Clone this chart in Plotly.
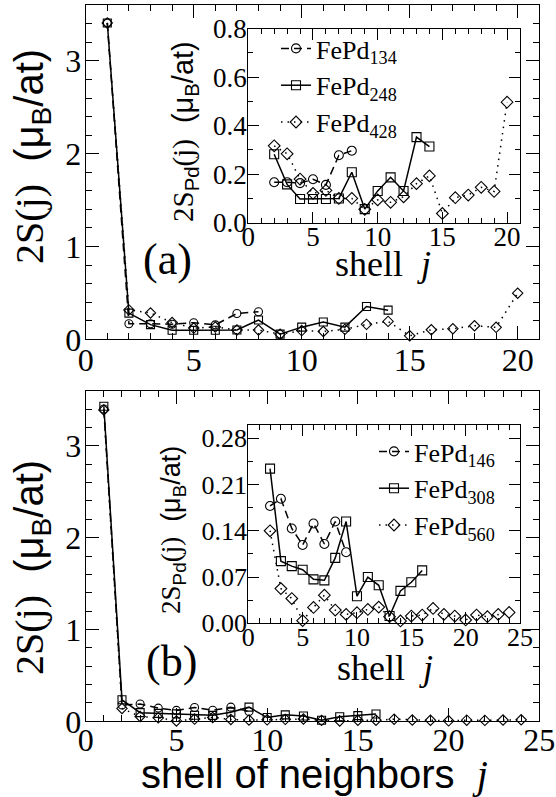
import plotly.graph_objects as go

W, H = 556, 797

# ---------------- data ----------------
shell_a134 = [2, 3, 4, 5, 6, 7, 8]
pd_a134 = [0.167, 0.167, 0.163, 0.179, 0.156, 0.278, 0.297]
shell_a248 = [2, 3, 4, 5, 6, 7, 8, 9, 10, 11, 12, 13, 14]
pd_a248 = [0.282, 0.158, 0.098, 0.098, 0.098, 0.100, 0.208, 0.056, 0.131, 0.187, 0.131, 0.353, 0.314]
shell_a428 = [2, 3, 4, 5, 6, 7, 8, 9, 10, 11, 12, 13, 14, 15, 16, 17, 18, 19, 20]
pd_a428 = [0.317, 0.284, 0.180, 0.121, 0.133, 0.100, 0.100, 0.055, 0.094, 0.084, 0.107, 0.161, 0.193,
           0.038, 0.103, 0.114, 0.146, 0.129, 0.497]

shell_b146 = [2, 3, 4, 5, 6, 7, 8, 9]
pd_b146 = [0.1775, 0.1885, 0.1435, 0.1185, 0.151, 0.120, 0.154, 0.1075]
shell_b308 = [2, 3, 4, 5, 6, 7, 8, 9, 10, 11, 12, 13, 14, 15, 16]
pd_b308 = [0.234, 0.094, 0.0865, 0.081, 0.0665, 0.065, 0.099, 0.154, 0.041, 0.070, 0.0575, 0.011,
           0.049, 0.062, 0.080]
shell_b560 = [2, 3, 4, 5, 6, 7, 8, 9, 10, 11, 12, 13, 14, 15, 16, 17, 18, 19, 20, 21, 22, 23, 24]
pd_b560 = [0.140, 0.0525, 0.0375, 0.004, 0.024, 0.0425, 0.020, 0.0135, 0.016, 0.021, 0.0245, 0.010,
           0.0035, 0.011, 0.0125, 0.0225, 0.0135, 0.011, 0.005, 0.0125, 0.010, 0.0135, 0.0165]

# first shell (j = 1) total moment in the main panels
s1_a = [3.41, 3.41, 3.41]
s1_b = [3.40, 3.43, 3.39]

labels_a = ["FePd<sub>134</sub>", "FePd<sub>248</sub>", "FePd<sub>428</sub>"]
labels_b = ["FePd<sub>146</sub>", "FePd<sub>308</sub>", "FePd<sub>560</sub>"]

xt_a = [0, 5, 10, 15, 20]
xt_b = [0, 5, 10, 15, 20, 25]
yt_main = [0, 1, 2, 3]
yt_ia = [0.0, 0.2, 0.4, 0.6, 0.8]
yt_ib = [0.00, 0.07, 0.14, 0.21, 0.28]

# ---------------- styles ----------------
styles = [
    dict(dash="8px,5px", symbol="circle-open", size=9),
    dict(dash="solid", symbol="square-open", size=9),
    dict(dash="1.5px,5px", symbol="diamond-open", size=9),
]
SERIF = "Liberation Serif"
SERIF_CSS = "Liberation Serif"
SANS = "Liberation Sans"

fig = go.Figure()


def add_series(xs, ys, name, st, xa, ya, legend, show, lw=1.5, msize=None):
    fig.add_trace(go.Scatter(
        x=xs, y=ys, mode="lines+markers", name=name,
        line=dict(color="black", width=lw, dash=st["dash"]),
        marker=dict(symbol=st["symbol"], size=msize or st["size"], color="black",
                    line=dict(color="black", width=1.1)),
        xaxis=xa, yaxis=ya, legend=legend, showlegend=show, cliponaxis=False,
    ))


sets_a = [(shell_a134, pd_a134), (shell_a248, pd_a248), (shell_a428, pd_a428)]
sets_b = [(shell_b146, pd_b146), (shell_b308, pd_b308), (shell_b560, pd_b560)]

# main panels: j=1 plus shells
for k, (xs, ys) in enumerate(sets_a):
    add_series([1] + xs, [s1_a[k]] + ys, labels_a[k], styles[k], "x", "y", "legend", False, msize=8)
for k, (xs, ys) in enumerate(sets_b):
    add_series([1] + xs, [s1_b[k]] + ys, labels_b[k], styles[k], "x3", "y3", "legend2", False, msize=8)
# insets
for k, (xs, ys) in enumerate(sets_a):
    add_series(xs, ys, labels_a[k], styles[k], "x2", "y2", "legend", True)
for k, (xs, ys) in enumerate(sets_b):
    add_series(xs, ys, labels_b[k], styles[k], "x4", "y4", "legend2", True)


def px_x(p):
    return p / W


def px_y(p):
    return 1 - p / H


main_x = [px_x(85.7), px_x(539.3)]
ins_x = [px_x(248.3), px_x(520)]


def axis(domain, rng, tickvals, fmt, minor_dt, fsize, tl, mtl, anchor, standoff):
    return dict(
        domain=domain, range=rng, tickvals=tickvals, tickformat=fmt,
        ticks="inside", ticklen=tl, tickwidth=1.2, tickcolor="black",
        minor=dict(ticks="inside", ticklen=mtl, dtick=minor_dt, tick0=0, tickwidth=1.1,
                   tickcolor="black", showgrid=False),
        showline=True, linecolor="black", linewidth=1.3, mirror="ticks",
        showgrid=False, zeroline=False, anchor=anchor, automargin=False,
        ticklabelstandoff=standoff,
        tickfont=dict(family=SERIF, size=fsize, color="black"),
    )


fig.update_layout(
    width=W, height=H, margin=dict(l=0, r=0, t=0, b=0),
    paper_bgcolor="white", plot_bgcolor="white",
    font=dict(family=SERIF, color="black"),
    xaxis=axis(main_x, [0, 21], xt_a, "d", 1, 32, 13, 6, "y", -8),
    yaxis=axis([px_y(339.3), px_y(5.3)], [0, 3.6], yt_main, "d", 0.2, 32, 13, 6, "x", -3),
    xaxis2=axis(ins_x, [0, 21], xt_a, "d", 1, 27, 11, 5, "y2", -10),
    yaxis2=axis([px_y(222.7), px_y(28.7)], [0, 0.8], yt_ia, ".1f", 0.1, 27, 11, 5, "x2", -5),
    xaxis3=axis(main_x, [0, 25], xt_b, "d", 1, 32, 13, 6, "y3", -10),
    yaxis3=axis([px_y(721.3), px_y(390.7)], [0, 3.6], yt_main, "d", 0.2, 32, 13, 6, "x3", -3),
    xaxis4=axis(ins_x, [0, 25], xt_b, "d", 1, 26, 11, 5, "y4", -10),
    yaxis4=axis([px_y(623.3), px_y(425)], [0, 0.30], yt_ib, ".2f", 0.035, 26, 11, 5, "x4", -5),
    legend=dict(x=px_x(276), y=px_y(25), xanchor="left", yanchor="top",
                bgcolor="rgba(0,0,0,0)", font=dict(family=SERIF, size=26, color="black"),
                itemwidth=30, tracegroupgap=0),
    legend2=dict(x=px_x(374), y=px_y(428), xanchor="left", yanchor="top",
                 bgcolor="rgba(0,0,0,0)", font=dict(family=SERIF, size=26, color="black"),
                 itemwidth=30, tracegroupgap=0),
    showlegend=True,
)

main_ytitle = (f'<span style="font-family:{SERIF_CSS}">2S(j)</span>'
               '  (μ<sub>B</sub>/at)')
ins_ytitle = (f'<span style="font-family:{SERIF_CSS}">2S</span><sub>Pd</sub>'
              f'<span style="font-family:{SERIF_CSS}">(j)</span>  (μ<sub>B</sub>/at)')

ann = [
    dict(x=px_x(32), y=px_y(157), text=main_ytitle, textangle=-90,
         font=dict(family=SANS, size=40, color="black")),
    dict(x=px_x(32), y=px_y(568), text=main_ytitle, textangle=-90,
         font=dict(family=SANS, size=40, color="black")),
    dict(x=px_x(185), y=px_y(132), text=ins_ytitle, textangle=-90,
         font=dict(family=SANS, size=29, color="black")),
    dict(x=px_x(173), y=px_y(530), text=ins_ytitle, textangle=-90,
         font=dict(family=SANS, size=27, color="black")),
    dict(x=px_x(167), y=px_y(260), text="(a)", font=dict(family=SERIF, size=44, color="black")),
    dict(x=px_x(171), y=px_y(661), text="(b)", font=dict(family=SERIF, size=44, color="black")),
    dict(x=px_x(383), y=px_y(264), text="shell  <i>j</i>", font=dict(family=SERIF, size=36, color="black")),
    dict(x=px_x(385), y=px_y(668), text="shell  <i>j</i>", font=dict(family=SERIF, size=36, color="black")),
    dict(x=px_x(314), y=px_y(774),
         text=f'shell of neighbors  <span style="font-family:{SERIF_CSS}"><i>j</i></span>',
         font=dict(family=SANS, size=40, color="black")),
]
for a in ann:
    a.update(xref="paper", yref="paper", showarrow=False, xanchor="center", yanchor="middle")
fig.update_layout(annotations=ann)

fig.write_html("out.html", config={"displayModeBar": False},
               post_script="document.body.style.margin='0';document.body.style.overflow='hidden';")
